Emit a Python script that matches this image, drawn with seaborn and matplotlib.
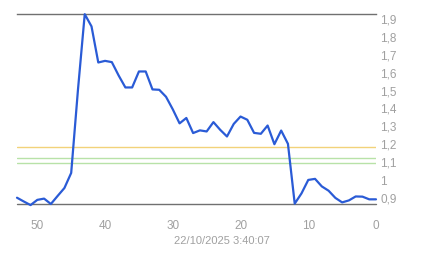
import matplotlib
matplotlib.use("Agg")
import matplotlib.pyplot as plt
import seaborn as sns
import pandas as pd
from matplotlib.ticker import MultipleLocator, FixedLocator, FuncFormatter

# x: minutes ago (53 .. 0)
minutes = list(range(53, -1, -1))
values = [0.903, 0.882, 0.862, 0.891, 0.898, 0.868, 0.913, 0.957, 1.041, 1.504,
          1.925, 1.857, 1.656, 1.665, 1.658, 1.584, 1.517, 1.517, 1.606, 1.606,
          1.506, 1.504, 1.465, 1.395, 1.317, 1.347, 1.263, 1.278, 1.272, 1.324,
          1.281, 1.244, 1.314, 1.355, 1.337, 1.264, 1.259, 1.305, 1.201, 1.277,
          1.203, 0.870, 0.927, 1.002, 1.008, 0.966, 0.942, 0.902, 0.877, 0.888,
          0.910, 0.909, 0.894, 0.894]
ref_yellow = 1.184
ref_green = [1.123, 1.095]
y_ticks = [0.9, 1.0, 1.1, 1.2, 1.3, 1.4, 1.5, 1.6, 1.7, 1.8, 1.9]
x_major = [0, 10, 20, 30, 40, 50]
date_label = "22/10/2025 3:40:07"

df = pd.DataFrame({"minutes": minutes, "value": values})

sns.set_style("white")
plt.rcParams['font.family'] = ['Liberation Sans', 'DejaVu Sans']

fig = plt.figure(figsize=(4.43, 2.58), dpi=100)
ax = fig.add_axes([17/443, 1-204/258, (376-17)/443, (204-14)/258])

ymin, ymax = 0.868, 1.926
ax.axhline(ref_yellow, color="#f2d27a", lw=1.0, zorder=1)
for g in ref_green:
    ax.axhline(g, color="#b8e2a8", lw=1.0, zorder=1)
ax.axhline(ymin, color="#707070", lw=1.0, zorder=2, clip_on=False)

sns.lineplot(data=df, x="minutes", y="value", ax=ax, color="#2a5bd6",
             lw=1.6, zorder=3, clip_on=False)

ax.set_xlim(53, 0)
ax.set_ylim(ymin, ymax)

for s in ["left", "right"]:
    ax.spines[s].set_visible(False)
ax.spines["top"].set_color("#707070")
ax.spines["top"].set_linewidth(1.0)
ax.spines["bottom"].set_position(("outward", 7))
ax.spines["bottom"].set_color("none")

ax.xaxis.set_major_locator(FixedLocator(x_major))
ax.xaxis.set_minor_locator(MultipleLocator(2.5))
ax.tick_params(axis="x", which="major", direction="out", length=3.5, width=0.8,
               color="#aaaaaa", labelcolor="#a0a0a0", labelsize=8.5, pad=1)
ax.tick_params(axis="x", which="minor", direction="out", length=2, width=0.8,
               color="#aaaaaa")

ax.yaxis.tick_right()
ax.yaxis.set_major_locator(FixedLocator(y_ticks))
ax.yaxis.set_major_formatter(FuncFormatter(
    lambda v, p: ("%g" % round(v, 1)).replace(".", ",")))
ax.tick_params(axis="y", which="both", length=0, labelcolor="#a0a0a0",
               labelsize=8.5, pad=3)

ax.set_xlabel("")
ax.set_ylabel("")
fig.text(221.5/443, 1-241.5/258, date_label, ha="center", va="center",
         fontsize=8, color="#a0a0a0")

fig.savefig("out.png", dpi=100, facecolor="white")
